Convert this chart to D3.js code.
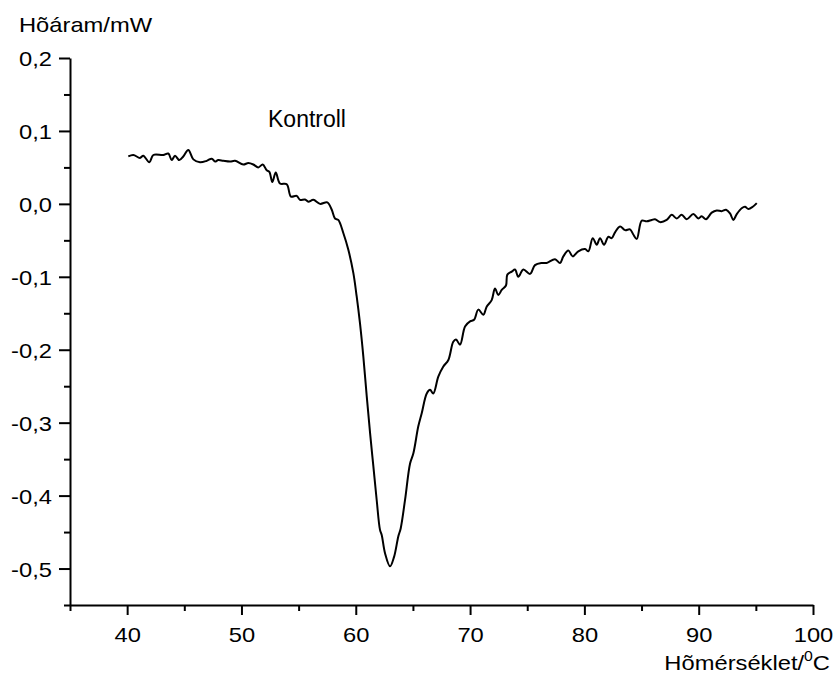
<!DOCTYPE html>
<html>
<head>
<meta charset="utf-8">
<script src="https://cdn.jsdelivr.net/npm/d3@7"></script>
<style>
  html, body { margin: 0; padding: 0; background: #fff; }
  svg text { font-family: "Liberation Sans", Arial, sans-serif; fill: #000; }
</style>
</head>
<body>
<svg id="chart" width="838" height="691"></svg>
<script>
// DSC thermogram: heat flow (mW) vs temperature (°C)
const tempC = [
  40.1, 40.54, 41.12, 41.41, 41.94, 42.29, 43.16, 43.6, 43.9, 44.19, 44.56, 44.91,
  45.35, 45.79, 46.37, 46.96, 47.4, 47.69, 47.97, 48.41, 49.0, 49.44, 50.16, 50.6,
  51.04, 51.47, 51.86, 52.21, 52.44, 52.7, 53.0, 53.37, 53.96, 54.33, 54.83, 55.12,
  55.56, 55.85, 56.29, 56.87, 57.51, 57.9, 58.18, 58.47, 58.91, 59.35, 59.79, 60.08,
  60.37, 60.66, 60.96, 61.25, 61.54, 61.83, 62.12, 62.27, 62.56, 63.0, 63.35, 63.72,
  63.93, 64.31, 64.75, 65.04, 65.47, 65.77, 66.21, 66.5, 66.78, 67.22, 67.66, 68.1,
  68.53, 68.77, 69.12, 69.56, 70.0, 70.35, 70.72, 71.16, 71.45, 71.89, 72.18, 72.47,
  72.77, 73.14, 73.26, 73.64, 73.93, 74.22, 74.66, 75.25, 75.68, 76.27, 76.7, 77.43,
  77.87, 78.16, 78.6, 78.98, 79.47, 80.06, 80.35, 80.73, 81.08, 81.37, 81.72, 82.1,
  82.39, 82.68, 83.12, 83.56, 83.99, 84.28, 84.58, 85.02, 85.45, 85.89, 86.18, 86.62,
  87.2, 87.64, 88.08, 88.51, 88.95, 89.53, 89.97, 90.26, 90.64, 91.14, 91.58, 92.01,
  92.39, 92.74, 93.03, 93.33, 93.76, 94.05, 94.35, 94.73, 95.08
];
const heatFlow = [
  0.065, 0.067, 0.063, 0.066, 0.057, 0.067, 0.067, 0.069, 0.060, 0.066, 0.060, 0.065,
  0.074, 0.061, 0.057, 0.059, 0.062, 0.058, 0.060, 0.059, 0.058, 0.059, 0.054, 0.056,
  0.054, 0.050, 0.054, 0.046, 0.044, 0.030, 0.043, 0.028, 0.027, 0.010, 0.011, 0.0055,
  0.006, 0.003, 0.0055, 0.000, 0.002, -0.008, -0.020, -0.022, -0.040, -0.063, -0.095, -0.127,
  -0.164, -0.209, -0.264, -0.314, -0.360, -0.406, -0.447, -0.454, -0.479, -0.497, -0.484, -0.456,
  -0.445, -0.406, -0.356, -0.342, -0.305, -0.287, -0.260, -0.255, -0.260, -0.237, -0.223, -0.214,
  -0.189, -0.186, -0.193, -0.168, -0.161, -0.159, -0.145, -0.152, -0.141, -0.132, -0.116, -0.125,
  -0.118, -0.112, -0.097, -0.093, -0.090, -0.100, -0.090, -0.096, -0.084, -0.081, -0.081, -0.076,
  -0.081, -0.072, -0.064, -0.072, -0.065, -0.062, -0.065, -0.047, -0.056, -0.047, -0.056, -0.045,
  -0.047, -0.039, -0.031, -0.036, -0.035, -0.042, -0.048, -0.023, -0.024, -0.022, -0.021, -0.025,
  -0.022, -0.015, -0.020, -0.015, -0.021, -0.014, -0.020, -0.017, -0.021, -0.012, -0.009, -0.010,
  -0.008, -0.013, -0.022, -0.014, -0.006, -0.004, -0.007, -0.004, 0.001
];

const xMajorTicks = [40, 50, 60, 70, 80, 90, 100];
const xMinorTicks = [35, 45, 55, 65, 75, 85, 95];
const yMajorTicks = [0.2, 0.1, 0.0, -0.1, -0.2, -0.3, -0.4, -0.5];
const yMinorTicks = [0.15, 0.05, -0.05, -0.15, -0.25, -0.35, -0.45, -0.55];

const yTitle = "Hõáram/mW";
const xTitle = "Hõmérséklet/";
const xTitleSup = "0";
const xTitleUnit = "C";
const seriesLabel = "Kontroll";

// Axis lettering is set slightly wide
const WIDE = 1.13;
const FS = 21;

const svg = d3.select("#chart");

const x = d3.scaleLinear().domain([35, 100]).range([70, 813]);
const y = d3.scaleLinear().domain([-0.55, 0.2]).range([605, 58]);

const fmt = d => d3.format(".1f")(d).replace(".", ",").replace("−", "-");

// x axis
const gx = svg.append("g").attr("transform", `translate(0,${y(-0.55)})`);
gx.call(d3.axisBottom(x).tickValues(xMajorTicks).tickSize(10).tickSizeOuter(0).tickPadding(12).tickFormat(d3.format("d")));
gx.append("g").call(d3.axisBottom(x).tickValues(xMinorTicks).tickSize(6).tickSizeOuter(0).tickFormat(""))
  .select(".domain").remove();

// y axis
const gy = svg.append("g").attr("transform", `translate(${x(35)},0)`);
gy.call(d3.axisLeft(y).tickValues(yMajorTicks).tickSize(11).tickSizeOuter(0).tickPadding(5).tickFormat(fmt));
gy.append("g").call(d3.axisLeft(y).tickValues(yMinorTicks).tickSize(6).tickSizeOuter(0).tickFormat(""))
  .select(".domain").remove();

svg.selectAll(".domain").attr("stroke", "#000").attr("stroke-width", 2);
svg.selectAll(".tick line").attr("stroke", "#000").attr("stroke-width", 2);
svg.selectAll(".tick text")
  .attr("font-size", FS)
  .attr("font-family", "Liberation Sans, Arial, sans-serif")
  .attr("fill", "#000")
  .attr("transform", `scale(${WIDE},1)`);
gy.selectAll(".tick text").attr("dy", "0.36em");

// curve
const pts = tempC.map((t, i) => [t, heatFlow[i]]);
svg.append("path")
  .datum(pts)
  .attr("fill", "none")
  .attr("stroke", "#000")
  .attr("stroke-width", 2)
  .attr("stroke-linejoin", "round")
  .attr("d", d3.line().x(d => x(d[0])).y(d => y(d[1])).curve(d3.curveCatmullRom.alpha(0.5)));

// titles
svg.append("text")
  .attr("transform", `translate(19,32) scale(${WIDE},1)`)
  .attr("font-size", FS).text(yTitle);

const xt = svg.append("text")
  .attr("transform", `translate(830,670) scale(${WIDE},1)`)
  .attr("text-anchor", "end").attr("font-size", FS);
xt.append("tspan").text(xTitle);
xt.append("tspan").attr("font-size", 14).attr("dy", -9).text(xTitleSup);
xt.append("tspan").attr("dy", 9).text(xTitleUnit);

svg.append("text").attr("x", 268).attr("y", 127).attr("font-size", 23).text(seriesLabel);
</script>
</body>
</html>
